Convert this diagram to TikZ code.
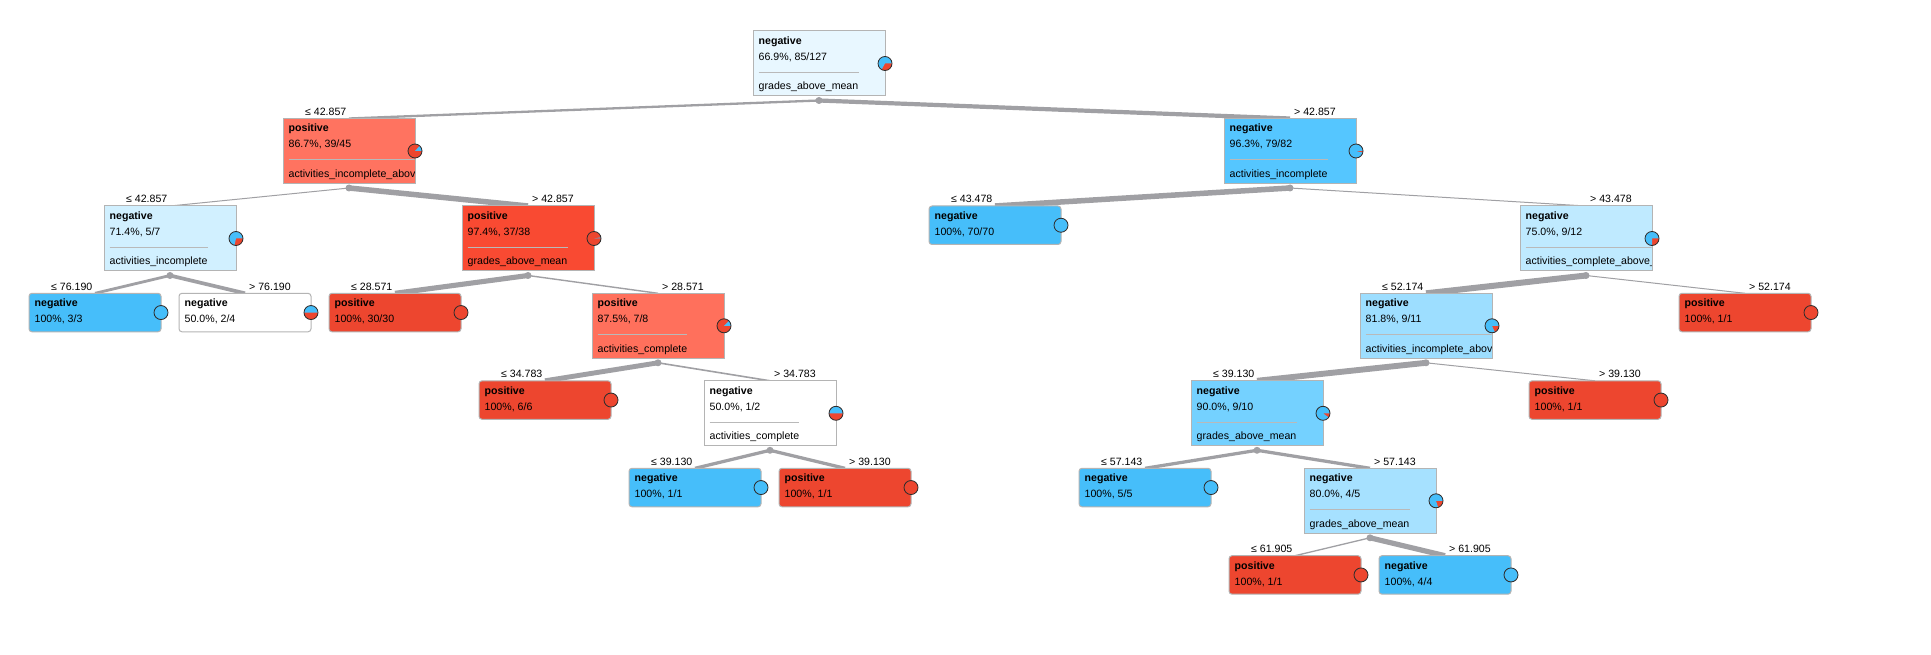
\documentclass[tikz,border=0pt]{standalone}
\usepackage{fontspec}
\setmainfont{Liberation Sans}
\usetikzlibrary{calc}
\pgfdeclarelayer{bgfill}
\pgfdeclarelayer{edges}
\pgfsetlayers{bgfill,edges,main}
\definecolor{cneg}{RGB}{70,190,250}
\definecolor{cpos}{RGB}{237,70,47}
\definecolor{edgegray}{RGB}{160,160,164}
\definecolor{bordgray}{RGB}{180,180,180}
\definecolor{sepgray}{RGB}{185,185,185}
\definecolor{pieedge}{RGB}{45,45,45}
\definecolor{froot}{RGB}{232,247,255}
\definecolor{fL}{RGB}{255,115,96}
\definecolor{fR}{RGB}{85,198,255}
\definecolor{fLL}{RGB}{209,240,255}
\definecolor{fLR}{RGB}{249,74,50}
\definecolor{fRR}{RGB}{191,234,255}
\definecolor{fLRR}{RGB}{255,112,92}
\definecolor{fRRL}{RGB}{157,222,255}
\definecolor{fRRLL}{RGB}{116,209,255}
\definecolor{fRRLLR}{RGB}{166,225,255}
\newcommand{\tfont}{\fontsize{10.6}{12}\selectfont}
\tikzset{
  treebox/.style={draw=bordgray, line width=1pt, inner sep=0pt, outer sep=0pt, minimum width=132pt, anchor=north west},
  intbox/.style={treebox, minimum height=65pt},
  leafbox/.style={treebox, minimum height=38.5pt, rounded corners=3pt},
  txt/.style={anchor=base west, inner sep=0pt, font=\tfont},
  cls/.style={anchor=base west, inner sep=0pt, font=\tfont\bfseries},
  lbl/.style={inner sep=0pt, font=\tfont},
  edgeline/.style={draw=edgegray, line cap=butt},
  sepline/.style={draw=sepgray, line width=1pt},
  splitdot/.style={circle, fill=edgegray, inner sep=0pt, minimum size=7pt},
  pieline/.style={draw=pieedge, line width=0.8pt}
}
\newcommand{\mypie}[2]{%
  \fill[cpos] (#1) circle[radius=7pt];
  \ifdim #2pt>0pt \fill[cneg] (#1) -- +(0:7pt) arc[start angle=0,end angle=#2,radius=7pt] -- cycle;\fi
  \draw[pieline] (#1) circle[radius=7pt];}
\newcommand{\inode}[8]{%
  \node[intbox, fill=#4] (#1) at (#2,#3) {};
  \node[cls] (#1c) at ({#2+5.5},{#3+13.5}) {#5};
  \node[txt] (#1t) at ({#2+5.5},{#3+29.5}) {#6};
  \begin{scope}
    \clip (#2,#3) rectangle ({#2+131.5},{#3+65});
    \node[txt] (#1a) at ({#2+5.5},{#3+59}) {#7};
    \coordinate (#1s) at ({#2+5.5},{#3+41.5});
    \draw[sepline] (#1s) -- (#1s -| #1a.east);
  \end{scope}
  \coordinate (#1p) at ({#2+132},{#3+32.5});
  \mypie{#1p}{#8}
  \node[splitdot] (#1d) at ({#2+66},{#3+69.5}) {};
}
\newcommand{\lnode}[7]{%
  \node[leafbox, fill=#4] (#1) at (#2,#3) {};
  \node[cls] (#1c) at ({#2+5.5},{#3+13.5}) {#5};
  \node[txt] (#1t) at ({#2+5.5},{#3+29.5}) {#6};
  \coordinate (#1p) at ({#2+132},{#3+19.25});
  \mypie{#1p}{#7}
}
\newcommand{\ledge}[4]{%
  \begin{pgfonlayer}{edges}
  \draw[edgeline, line width=#3pt] (#1d.center) -- (#2.north);
  \end{pgfonlayer}
  \node[lbl, anchor=base east] (#2l) at ($(#2.north)+(-2.5pt,3pt)$) {#4};
}
\newcommand{\redge}[4]{%
  \begin{pgfonlayer}{edges}
  \draw[edgeline, line width=#3pt] (#1d.center) -- (#2.north);
  \end{pgfonlayer}
  \node[lbl, anchor=base west] (#2l) at ($(#2.north)+(4pt,3pt)$) {#4};
}
\begin{document}
\begin{tikzpicture}[x=1pt,y=-1pt]
\begin{pgfonlayer}{bgfill}
\fill[white] (0,0) rectangle (1931,655);
\end{pgfonlayer}
\useasboundingbox (0,0) rectangle (1931,655);
\inode{root}{753}{31}{froot}{negative}{66.9\%, 85/127}{grades\_above\_mean}{240.9}
\inode{L}{283}{118.5}{fL}{positive}{86.7\%, 39/45}{activities\_incomplete\_abov}{48}
\inode{R}{1224}{118.5}{fR}{negative}{96.3\%, 79/82}{activities\_incomplete}{346.8}
\inode{LL}{104}{206}{fLL}{negative}{71.4\%, 5/7}{activities\_incomplete}{257.1}
\inode{LR}{462}{206}{fLR}{positive}{97.4\%, 37/38}{grades\_above\_mean}{9.5}
\lnode{RL}{929}{206}{cneg}{negative}{100\%, 70/70}{360}
\inode{RR}{1520}{206}{fRR}{negative}{75.0\%, 9/12}{activities\_complete\_above\_}{270}
\lnode{LLL}{29}{293.3}{cneg}{negative}{100\%, 3/3}{360}
\lnode{LLR}{179}{293.3}{white}{negative}{50.0\%, 2/4}{180}
\lnode{LRL}{329}{293.3}{cpos}{positive}{100\%, 30/30}{0}
\inode{LRR}{592}{293.3}{fLRR}{positive}{87.5\%, 7/8}{activities\_complete}{45}
\inode{RRL}{1360}{293.3}{fRRL}{negative}{81.8\%, 9/11}{activities\_incomplete\_abov}{294.5}
\lnode{RRR}{1679}{293.3}{cpos}{positive}{100\%, 1/1}{0}
\lnode{LRRL}{479}{380.8}{cpos}{positive}{100\%, 6/6}{0}
\inode{LRRR}{704}{380.8}{white}{negative}{50.0\%, 1/2}{activities\_complete}{180}
\inode{RRLL}{1191}{380.8}{fRRLL}{negative}{90.0\%, 9/10}{grades\_above\_mean}{324}
\lnode{RRLR}{1529}{380.8}{cpos}{positive}{100\%, 1/1}{0}
\lnode{LRRRL}{629}{468.3}{cneg}{negative}{100\%, 1/1}{360}
\lnode{LRRRR}{779}{468.3}{cpos}{positive}{100\%, 1/1}{0}
\lnode{RRLLL}{1079}{468.3}{cneg}{negative}{100\%, 5/5}{360}
\inode{RRLLR}{1304}{468.3}{fRRLLR}{negative}{80.0\%, 4/5}{grades\_above\_mean}{288}
\lnode{RRLLRL}{1229}{555.7}{cpos}{positive}{100\%, 1/1}{0}
\lnode{RRLLRR}{1379}{555.7}{cneg}{negative}{100\%, 4/4}{360}
\ledge{root}{L}{2.3}{≤ 42.857}
\redge{root}{R}{4.2}{> 42.857}
\ledge{L}{LL}{1}{≤ 42.857}
\redge{L}{LR}{5.5}{> 42.857}
\ledge{LL}{LLL}{2.8}{≤ 76.190}
\redge{LL}{LLR}{3.7}{> 76.190}
\ledge{LR}{LRL}{5.1}{≤ 28.571}
\redge{LR}{LRR}{1.4}{> 28.571}
\ledge{LRR}{LRRL}{4.9}{≤ 34.783}
\redge{LRR}{LRRR}{1.6}{> 34.783}
\ledge{LRRR}{LRRRL}{3.25}{≤ 39.130}
\redge{LRRR}{LRRRR}{3.25}{> 39.130}
\ledge{R}{RL}{5.5}{≤ 43.478}
\redge{R}{RR}{1}{> 43.478}
\ledge{RR}{RRL}{6}{≤ 52.174}
\redge{RR}{RRR}{1}{> 52.174}
\ledge{RRL}{RRLL}{5.9}{≤ 39.130}
\redge{RRL}{RRLR}{1}{> 39.130}
\ledge{RRLL}{RRLLL}{3.25}{≤ 57.143}
\redge{RRLL}{RRLLR}{3.25}{> 57.143}
\ledge{RRLLR}{RRLLRL}{1.3}{≤ 61.905}
\redge{RRLLR}{RRLLRR}{5.2}{> 61.905}
\end{tikzpicture}
\end{document}
